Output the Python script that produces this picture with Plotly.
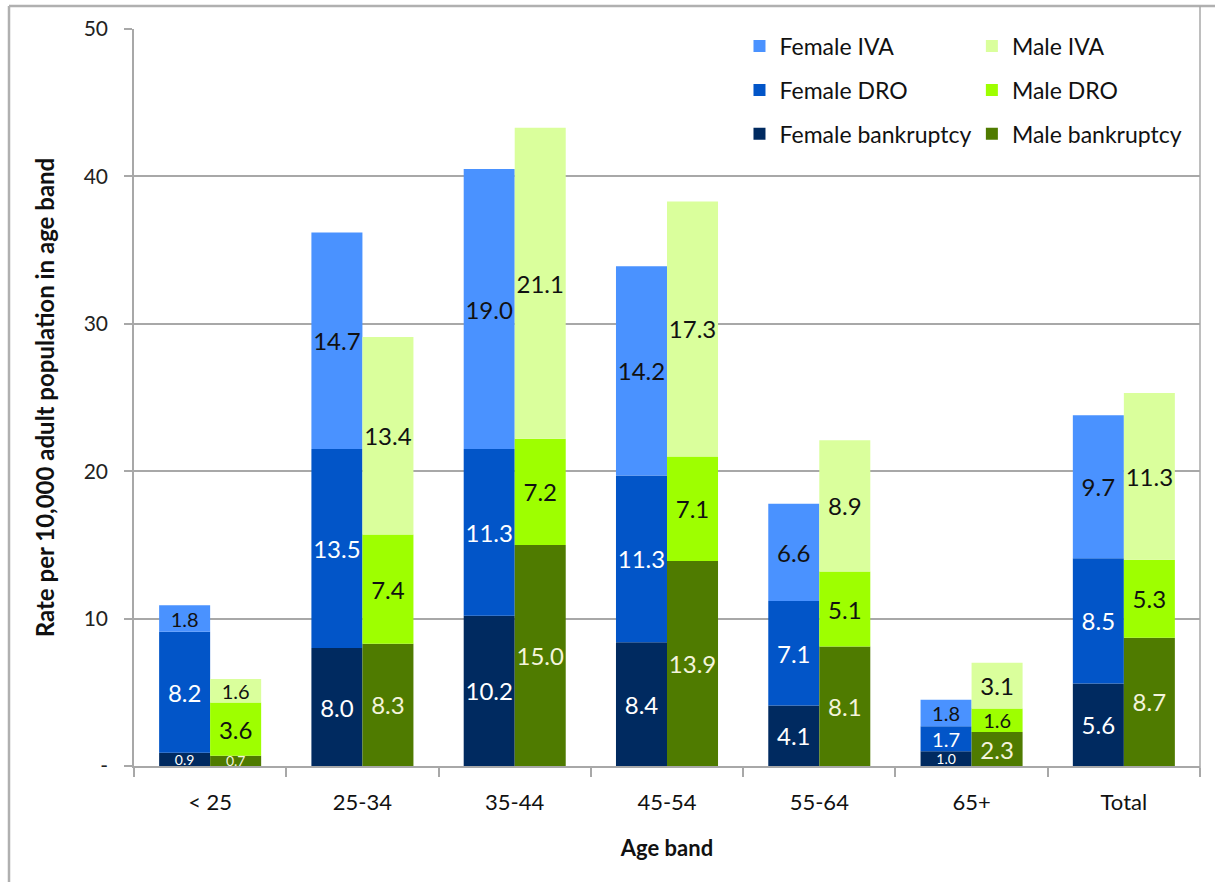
import numpy as np
import plotly.graph_objects as go

# Age bands on the x axis
age_bands = ["< 25", "25-34", "35-44", "45-54", "55-64", "65+", "Total"]

# Rates per 10,000 adults, by gender and insolvency type
female_bankruptcy = [0.9, 8.0, 10.2, 8.4, 4.1, 1.0, 5.6]
female_dro = [8.2, 13.5, 11.3, 11.3, 7.1, 1.7, 8.5]
female_iva = [1.8, 14.7, 19.0, 14.2, 6.6, 1.8, 9.7]

male_bankruptcy = [0.7, 8.3, 15.0, 13.9, 8.1, 2.3, 8.7]
male_dro = [3.6, 7.4, 7.2, 7.1, 5.1, 1.6, 5.3]
male_iva = [1.6, 13.4, 21.1, 17.3, 8.9, 3.1, 11.3]

y_tick_values = [0, 10, 20, 30, 40, 50]
y_tick_labels = ["-", "10", "20", "30", "40", "50"]

FONT = "Lato"
BAR_W = 0.335
GRID = "#A8A8A8"


def label_sizes(values):
    # shrink the label font on thin segments so it stays within the bar
    sizes = []
    for v in values:
        if v < 1.5:
            sizes.append(14)
        elif v < 2.0:
            sizes.append(20)
        else:
            sizes.append(24)
    return sizes


def stacked(layers):
    """Return (values, base) pairs for a bottom-up stack."""
    out = []
    base = np.zeros(len(layers[0]))
    for vals in layers:
        arr = np.asarray(vals, dtype=float)
        out.append((arr, base.copy()))
        base = base + arr
    return out


fig = go.Figure()

series = [
    # name, values, bar colour, label colour, gender
    ("Female bankruptcy", female_bankruptcy, "#002A60", "#FFFFFF", "F"),
    ("Female DRO", female_dro, "#0255C8", "#FFFFFF", "F"),
    ("Female IVA", female_iva, "#4A92FF", "#111111", "F"),
    ("Male bankruptcy", male_bankruptcy, "#4F7B00", "#F4F4DC", "M"),
    ("Male DRO", male_dro, "#9EFF00", "#111111", "M"),
    ("Male IVA", male_iva, "#DAFF9C", "#111111", "M"),
]

female_stack = stacked([female_bankruptcy, female_dro, female_iva])
male_stack = stacked([male_bankruptcy, male_dro, male_iva])
bases = {"Female bankruptcy": female_stack[0][1], "Female DRO": female_stack[1][1],
         "Female IVA": female_stack[2][1], "Male bankruptcy": male_stack[0][1],
         "Male DRO": male_stack[1][1], "Male IVA": male_stack[2][1]}

legend_rank = {"Female IVA": 1, "Female DRO": 2, "Female bankruptcy": 3,
               "Male IVA": 1, "Male DRO": 2, "Male bankruptcy": 3}

for name, vals, color, txtcol, gender in series:
    fig.add_trace(go.Bar(
        name=name,
        x=age_bands,
        y=vals,
        base=bases[name],
        width=BAR_W,
        offset=-BAR_W if gender == "F" else 0.0,
        marker=dict(color=color, line=dict(width=0)),
        texttemplate="%{y:.1f}",
        textposition="inside",
        insidetextanchor="middle",
        constraintext="none",
        textangle=0,
        insidetextfont=dict(family=FONT, size=label_sizes(vals), color=txtcol),
        legend="legend" if gender == "F" else "legend2",
        legendgroup=name,
        legendrank=legend_rank[name],
        hoverinfo="skip",
    ))

legend_style = dict(
    font=dict(family=FONT, size=23, color="#111111"),
    bgcolor="rgba(0,0,0,0)",
    traceorder="grouped",
    tracegroupgap=11,
    yanchor="top",
    xanchor="left",
    y=1.006,
    itemclick=False,
)

fig.update_layout(
    width=1215,
    height=882,
    margin=dict(l=134, r=15, t=29, b=116),
    paper_bgcolor="white",
    plot_bgcolor="white",
    barmode="overlay",
    font=dict(family=FONT, size=22, color="#111111"),
    legend=dict(x=0.568, **legend_style),
    legend2=dict(x=0.786, **legend_style),
    xaxis=dict(
        type="category",
        range=[-0.5, 6.5],
        showline=True,
        linecolor=GRID,
        linewidth=1.5,
        ticks="outside",
        tickson="boundaries",
        ticklen=9,
        tickcolor=GRID,
        tickwidth=1.5,
        ticklabelstandoff=16,
        tickfont=dict(family=FONT, size=22, color="#111111"),
        showgrid=False,
        title=dict(text="<b>Age band</b>", font=dict(family=FONT, size=22, color="#111111"), standoff=26),
    ),
    yaxis=dict(
        range=[0, 50],
        tickvals=y_tick_values,
        ticktext=y_tick_labels,
        showline=True,
        linecolor=GRID,
        linewidth=1.5,
        ticks="outside",
        ticklen=8,
        tickcolor=GRID,
        tickwidth=1.5,
        ticklabelstandoff=12,
        tickfont=dict(family=FONT, size=21, color="#222222"),
        showgrid=True,
        gridcolor=GRID,
        gridwidth=1.5,
        zeroline=False,
        title=dict(text="<b>Rate per 10,000 adult population in age band</b>",
                   font=dict(family=FONT, size=24, color="#111111"), standoff=22),
    ),
)

# Chart frame: outer border lines (left, top, right)
frame = dict(type="line", xref="paper", yref="paper", line=dict(color="#B0B0B0", width=2.5), layer="above")
px_w, px_h = 1066.0, 737.0
def fx(px):
    return (px - 134) / px_w
def fy(py):
    return (766 - py) / px_h
fig.add_shape(x0=fx(9), x1=fx(9), y0=fy(6), y1=fy(900), **frame)
fig.add_shape(x0=fx(9), x1=fx(1230), y0=fy(6), y1=fy(6), **frame)
fig.add_shape(x0=fx(1200), x1=fx(1200), y0=fy(6), y1=fy(772),
              **{**frame, "line": dict(color=GRID, width=1.5)})

fig.write_html("out.html")
